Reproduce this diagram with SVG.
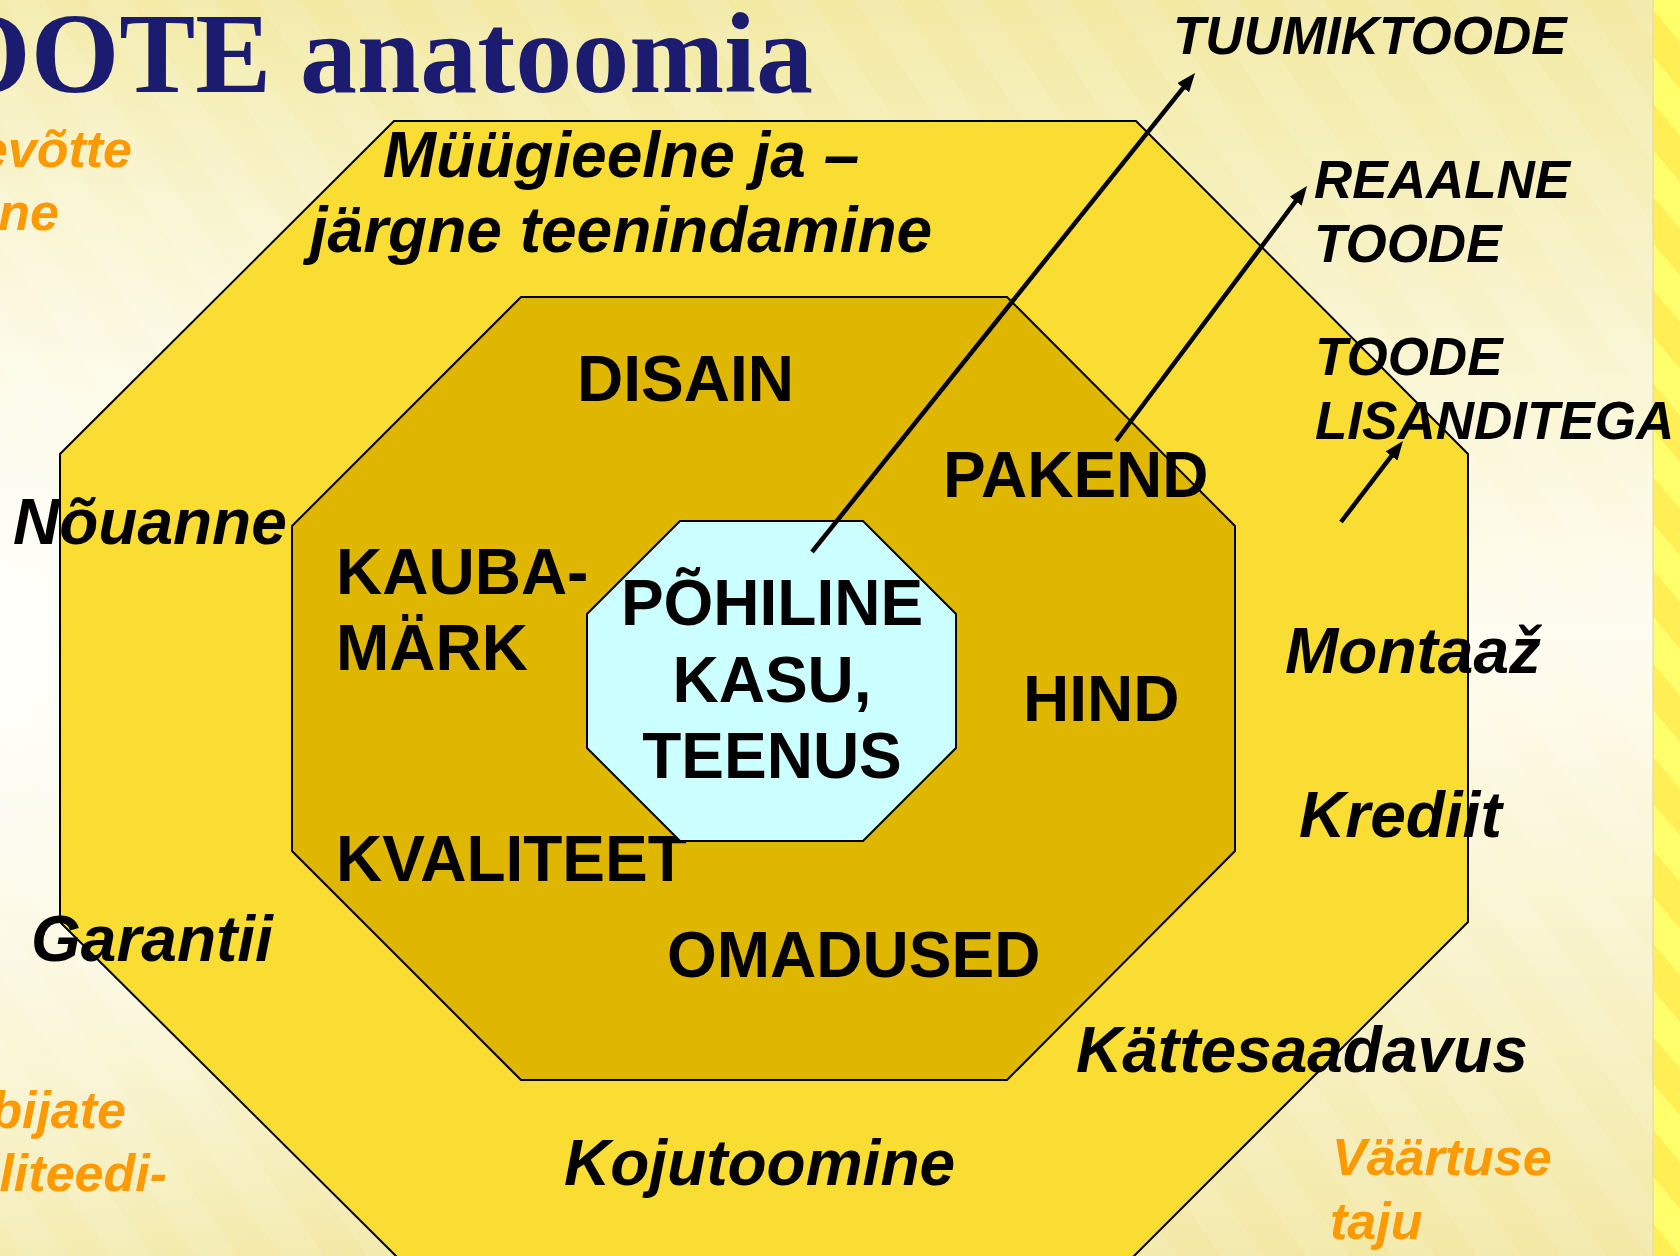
<svg xmlns="http://www.w3.org/2000/svg" width="1680" height="1256" viewBox="0 0 1680 1256">
  <defs>
    <linearGradient id="panelGrad" x1="0" y1="0" x2="0" y2="1">
      <stop offset="0" stop-color="#F2E9A2"/>
      <stop offset="0.5" stop-color="#FFFDF1"/>
      <stop offset="1" stop-color="#F2E8A4"/>
    </linearGradient>
    <radialGradient id="glow" cx="0" cy="650" r="700" gradientUnits="userSpaceOnUse">
      <stop offset="0" stop-color="#FFFFFA" stop-opacity="0.9"/>
      <stop offset="1" stop-color="#FFFFFA" stop-opacity="0"/>
    </radialGradient>
    <pattern id="faint" width="70" height="70" patternUnits="userSpaceOnUse" patternTransform="rotate(-35)">
      <rect width="35" height="70" fill="#FFFFFF" opacity="0.1"/>
    </pattern>
    <pattern id="sideStripes" width="60" height="60" patternUnits="userSpaceOnUse" patternTransform="rotate(-40)">
      <rect width="60" height="60" fill="#FFEF55"/>
      <rect width="30" height="60" fill="#FFFF6C"/>
    </pattern>
    <marker id="arrow" markerUnits="userSpaceOnUse" viewBox="0 0 19 15" markerWidth="19" markerHeight="15" refX="9" refY="7.5" orient="auto">
      <path d="M0,0 L19,7.5 L0,15 z" fill="#000"/>
    </marker>
    <style>
      .oct { stroke: #000; stroke-width: 2; stroke-linejoin: miter; }
      .title { font-family: "Liberation Serif", "Times New Roman", serif; font-weight: bold; font-size: 114px; fill: #1B1B70; }
      .orange { font-family: "Liberation Sans", Arial, sans-serif; font-weight: bold; font-style: italic; font-size: 52px; fill: #FF9900; }
      .it { font-family: "Liberation Sans", Arial, sans-serif; font-weight: bold; font-style: italic; font-size: 64px; fill: #000; }
      .itS { font-family: "Liberation Sans", Arial, sans-serif; font-weight: bold; font-style: italic; font-size: 53px; fill: #000; }
      .bd { font-family: "Liberation Sans", Arial, sans-serif; font-weight: bold; font-size: 64px; fill: #000; }
      .conn { stroke: #000; stroke-width: 4.5; fill: none; marker-end: url(#arrow); }
    </style>
  </defs>

  <!-- background -->
  <rect x="0" y="0" width="1680" height="1256" fill="url(#sideStripes)"/>
  <rect x="-10" y="-10" width="1663" height="1280" rx="8" fill="url(#panelGrad)" stroke="#E6DDA0" stroke-width="1.5"/>
  <rect x="-10" y="-10" width="1663" height="1280" rx="8" fill="url(#glow)"/>
  <rect x="-10" y="-10" width="1663" height="1280" rx="8" fill="url(#faint)"/>

  <!-- title and side texts -->
  <text class="title" x="-132" y="92">TOOTE anatoomia</text>
  <text class="orange" x="132" y="167" text-anchor="end">evõtte</text>
  <text class="orange" x="59" y="230" text-anchor="end">ne</text>
  <text class="orange" x="126" y="1128" text-anchor="end">bijate</text>
  <text class="orange" x="167" y="1191" text-anchor="end">liteedi-</text>
  <text class="orange" x="1332" y="1175">Väärtuse</text>
  <text class="orange" x="1330" y="1239">taju</text>

  <!-- outer octagon: tuumiktoode with lisandid -->
  <g id="outer">
    <polygon class="oct" fill="#F9DD32" points="394,121 1136,121 1468,454 1468,922 1132,1258 398,1258 60,922 60,454"/>
    <text class="it" x="621" y="177" text-anchor="middle">Müügieelne ja –</text>
    <text class="it" x="621" y="252" text-anchor="middle">järgne teenindamine</text>
    <text class="it" x="13" y="544">Nõuanne</text>
    <text class="it" x="31" y="961">Garantii</text>
    <text class="it" x="1285" y="673">Montaaž</text>
    <text class="it" x="1299" y="837">Krediit</text>
    <text class="it" x="1076" y="1072">Kättesaadavus</text>
    <text class="it" x="564" y="1185">Kojutoomine</text>
  </g>

  <!-- middle octagon: reaalne toode -->
  <g id="middle">
    <polygon class="oct" fill="#DFB700" points="521,297 1007,297 1235,526 1235,851 1007,1080 521,1080 292,851 292,526"/>
    <text class="bd" x="577" y="401">DISAIN</text>
    <text class="bd" x="943" y="497">PAKEND</text>
    <text class="bd" x="336" y="594">KAUBA-</text>
    <text class="bd" x="336" y="670">MÄRK</text>
    <text class="bd" x="1023" y="721">HIND</text>
    <text class="bd" x="336" y="881">KVALITEET</text>
    <text class="bd" x="667" y="977">OMADUSED</text>
  </g>

  <!-- inner octagon: põhiline kasu -->
  <g id="inner">
    <polygon class="oct" fill="#CCFFFF" points="680,521 863,521 956,614 956,748 863,841 680,841 587,748 587,614"/>
    <text class="bd" x="772" y="625" text-anchor="middle">PÕHILINE</text>
    <text class="bd" x="772" y="702" text-anchor="middle">KASU,</text>
    <text class="bd" x="772" y="778" text-anchor="middle">TEENUS</text>
  </g>

  <!-- level labels -->
  <g id="label-tuumiktoode">
    <text class="itS" x="1173" y="54">TUUMIKTOODE</text>
  </g>
  <g id="label-reaalne">
    <text class="itS" x="1314" y="198">REAALNE</text>
    <text class="itS" x="1314" y="262">TOODE</text>
  </g>
  <g id="label-lisanditega">
    <text class="itS" x="1315" y="375">TOODE</text>
    <text class="itS" x="1315" y="439">LISANDITEGA</text>
  </g>

  <!-- connectors -->
  <g id="connectors">
    <line class="conn" x1="812" y1="552" x2="1188.8" y2="80.8"/>
    <line class="conn" x1="1116" y1="441" x2="1301" y2="194"/>
    <line class="conn" x1="1341" y1="522" x2="1396.9" y2="448.9"/>
  </g>
</svg>
